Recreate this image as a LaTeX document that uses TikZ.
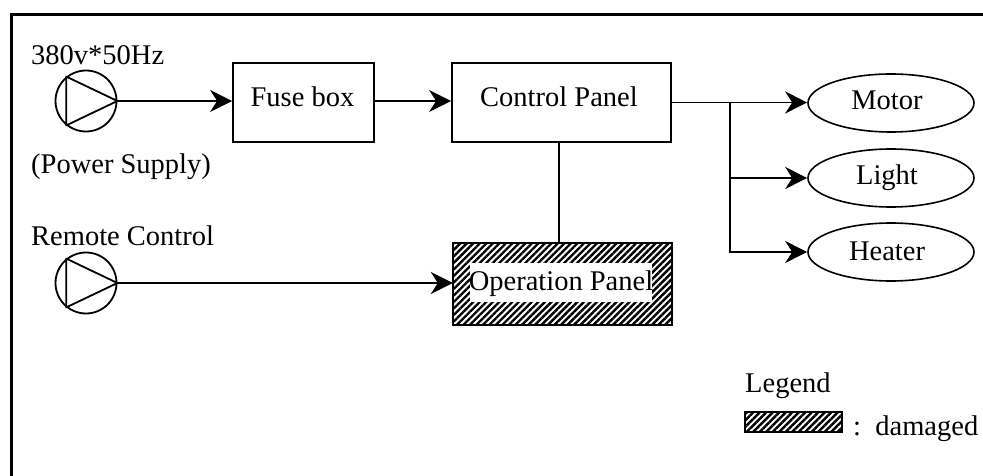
\documentclass[tikz,border=0pt]{standalone}
\usepackage{fontspec}
\setmainfont{Liberation Serif}
\usetikzlibrary{arrows.meta,patterns.meta,shapes.geometric}
\begin{document}
\begin{tikzpicture}[x=1pt,y=-1pt,
  font=\fontsize{28.5}{32}\selectfont,
  txt/.style={inner sep=0pt,anchor=base},
  txtw/.style={inner sep=0pt,anchor=base west},
  blockbox/.style={draw,line width=1.8pt,inner sep=0pt,minimum width=#1},
  src/.style={draw,circle,line width=1.8pt,minimum size=61pt,inner sep=0pt},
  unit/.style={draw,ellipse,line width=1.6pt,minimum width=166pt,minimum height=58pt,inner sep=0pt},
  hatch/.style={draw,line width=2.4pt,pattern={Lines[angle=45,distance=4.6pt,line width=2.4pt]}},
  conn/.style={line width=1.5pt},
  arr/.style={conn,-{Stealth[length=22pt,width=22pt,inset=7pt]}}
]
\useasboundingbox (0,0) rectangle (983,476);
% frame
\draw[line width=3pt] (11,476) -- (11,15) -- (983,15);

% sources
\node[src] (ps) at (86,101) {};
\draw[line width=1.8pt,line join=round] (ps.east) -- (ps.129) -- (ps.-129) -- cycle;
\node[txtw] (pstop) at (31,65) {380v*50Hz};
\node[txtw] (psbot) at (31,174) {(Power Supply)};

\node[src] (rc) at (86,283) {};
\draw[line width=1.8pt,line join=round] (rc.east) -- (rc.129) -- (rc.-129) -- cycle;
\node[txtw] (rclab) at (31,245) {Remote Control};

% boxes
\node[blockbox=141pt,minimum height=79pt] (fuse) at (303.5,102.5) {};
\node[txt] (fuselab) at (302.5,107) {Fuse box};
\node[blockbox=219pt,minimum height=79pt] (cp) at (561.5,102.5) {};
\node[txt] (cplab) at (559,107) {Control Panel};

\path[hatch] (453,243) rectangle (672,325);
\node[inner sep=0pt,minimum width=219pt,minimum height=82pt] (op) at (562.5,284) {};
\node[fill=white,inner sep=0pt,minimum width=182pt,minimum height=39pt] (opbg) at (561,282.5) {};
\node[txt] (oplab) at (561,290) {Operation Panel};

% outputs
\node[unit] (motor) at (891,103) {};
\node[txt] (motorlab) at (887,110) {Motor};
\node[unit] (light) at (891,178) {};
\node[txt] (lightlab) at (887,185) {Light};
\node[unit] (heater) at (891,252) {};
\node[txt] (heaterlab) at (887,260) {Heater};

% connectors
\draw[arr] (ps.east) -- (fuse.west |- ps.east);
\draw[arr] (fuse.east |- ps.east) -- (cp.west |- ps.east);
\draw[arr] (rc.east) -- (op.west |- rc.east);
\draw[conn] (cp.south -| 559,0) -- (op.north -| 559,0);
\coordinate (br) at (730,102.5);
\draw[arr] (cp.east) -- (motor.west |- cp.east);
\draw[arr] (br) |- (heater.west);
\draw[arr] (br |- light.west) -- (light.west);

% legend
\node[txtw] (leg) at (745,392) {Legend};
\path[hatch,line width=1.8pt] (745,412) rectangle (842,432);
\node[inner sep=0pt,minimum width=97pt,minimum height=20pt] (legbox) at (793.5,422) {};
\node[txtw] (legtxt) at (853,435) {:\, damaged};
\end{tikzpicture}
\end{document}
